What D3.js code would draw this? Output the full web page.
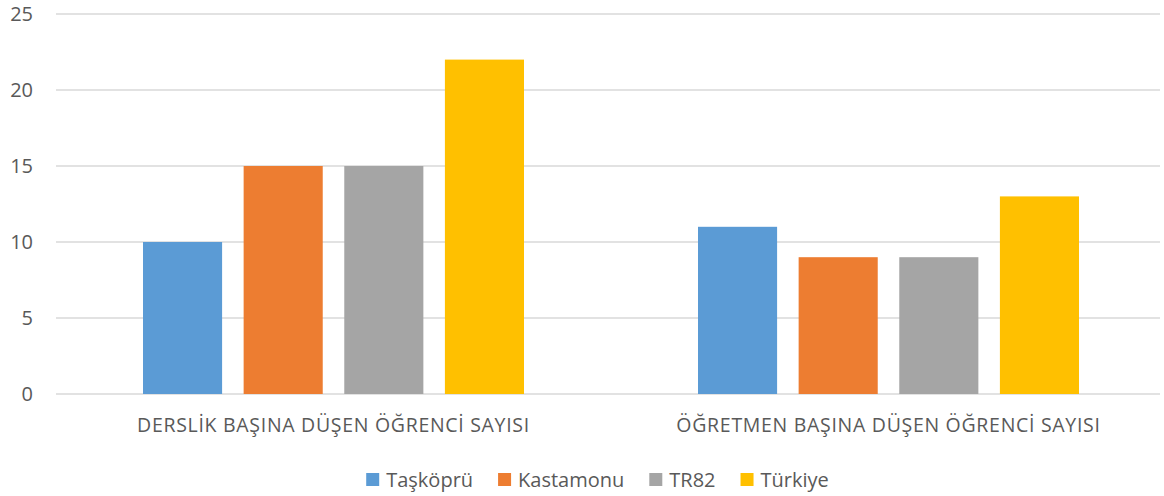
<!DOCTYPE html>
<html>
<head>
<meta charset="utf-8">
<script src="https://cdn.jsdelivr.net/npm/d3@7"></script>
<style>
  body { margin: 0; background: #fff; }
  svg { font-family: "Open Sans", "Noto Sans", sans-serif; }
</style>
</head>
<body>
<svg id="chart" width="1164" height="496"></svg>
<script>
let categories = ['DERSLİK BAŞINA DÜŞEN ÖĞRENCİ SAYISI', 'ÖĞRETMEN BAŞINA DÜŞEN ÖĞRENCİ SAYISI'];
let seriesNames = ['Taşköprü', 'Kastamonu', 'TR82', 'Türkiye'];
let seriesColors = ['#5b9bd5', '#ed7d31', '#a5a5a5', '#ffc000'];
let values = [
  [10, 11],   // Taşköprü
  [15, 9],    // Kastamonu
  [15, 9],    // TR82
  [22, 13]    // Türkiye
];
let yTicks = [0, 5, 10, 15, 20, 25];

let svg = d3.select('#chart');
let plotLeft = 56, plotRight = 1166, plotTop = 14, plotBottom = 394;

let y = d3.scaleLinear().domain([0, 25]).range([plotBottom, plotTop]);
let x0 = d3.scaleBand().domain(categories).range([plotLeft, plotRight]).padding(0);
let outer = 87;
let x1 = d3.scaleBand().domain(seriesNames)
  .range([outer, x0.bandwidth() - outer])
  .paddingInner(0.214).paddingOuter(0);

// gridlines
svg.append('g')
  .selectAll('line')
  .data(yTicks)
  .enter().append('line')
  .attr('x1', plotLeft).attr('x2', 1160)
  .attr('y1', d => y(d)).attr('y2', d => y(d))
  .attr('stroke', '#d9d9d9')
  .attr('stroke-width', 1.3);

// y tick labels
svg.append('g')
  .selectAll('text')
  .data(yTicks)
  .enter().append('text')
  .attr('x', 33).attr('y', d => y(d))
  .attr('dy', '0.36em')
  .attr('text-anchor', 'end')
  .attr('fill', '#595959')
  .style('font-size', '20px')
  .text(d => d);

// bars
let rows = [];
seriesNames.forEach(function (s, si) {
  categories.forEach(function (c, ci) {
    rows.push({ series: s, cat: c, value: values[si][ci], color: seriesColors[si] });
  });
});

svg.append('g')
  .selectAll('rect')
  .data(rows)
  .enter().append('rect')
  .attr('x', d => x0(d.cat) + x1(d.series))
  .attr('width', x1.bandwidth())
  .attr('y', d => y(d.value))
  .attr('height', d => y(0) - y(d.value))
  .attr('fill', d => d.color);

// category labels
svg.append('g')
  .selectAll('text')
  .data(categories)
  .enter().append('text')
  .attr('x', d => x0(d) + x0.bandwidth() / 2)
  .attr('y', 432)
  .attr('text-anchor', 'middle')
  .attr('fill', '#595959')
  .style('font-size', '19.5px')
  .style('letter-spacing', '0.7px')
  .text(d => d);

// legend
let legend = svg.append('g');
let items = legend.selectAll('g')
  .data(seriesNames)
  .enter().append('g');
items.append('rect')
  .attr('width', 13).attr('height', 13)
  .attr('y', 473)
  .attr('fill', (d, i) => seriesColors[i]);
items.append('text')
  .attr('x', 20).attr('y', 487)
  .attr('fill', '#595959')
  .style('font-size', '20px')
  .text(d => d);

let xPos = 0;
let offsets = [];
items.each(function () {
  let w = d3.select(this).select('text').node().getComputedTextLength();
  offsets.push(xPos);
  xPos += 20 + w + 25;
});
let totalW = xPos - 25;
let startX = 597.5 - totalW / 2;
items.attr('transform', (d, i) => 'translate(' + (startX + offsets[i]) + ',0)');
</script>
</body>
</html>
